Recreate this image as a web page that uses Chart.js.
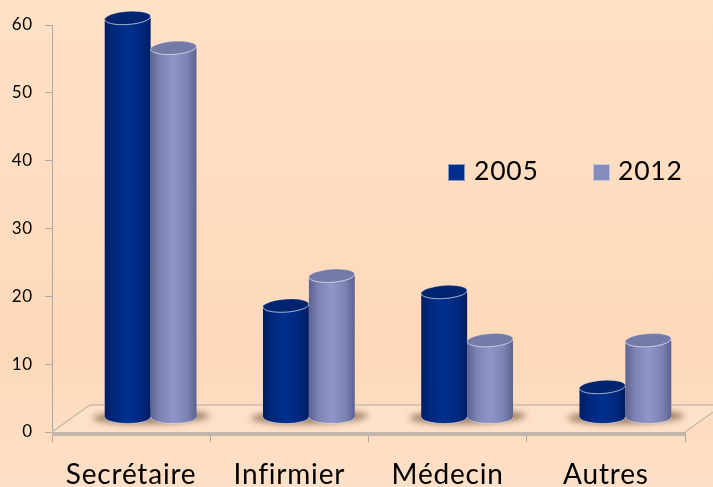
<!DOCTYPE html>
<html><head><meta charset="utf-8">
<style>html,body{margin:0;padding:0;width:713px;height:487px;overflow:hidden;background:linear-gradient(180deg,#ffe1c7 0%,#fedcbf 45%,#fdd9b9 72%,#fee0c8 100%)}canvas{display:block}</style>
<script src="https://cdn.jsdelivr.net/npm/chart.js@4"></script>
</head><body><canvas id="c" width="713" height="487"></canvas>
<script>
const categories = ["Secrétaire","Infirmier","Médecin","Autres"];
const series2005 = [60,17.6,19.6,5.6];
const series2012 = [55.6,22,12.5,12.5];
const seriesNames = ["2005","2012"];
const yTicks = [0,10,20,30,40,50,60];
const FONT = "Lato, Carlito, sans-serif";
const DX = 19.5, TOP_DY = 7, BASE_DY = 15, RY = 6.5;
const PAL = [
 {edge:"#001c66",near:"#00287c",mid:"#00308f",cap:"#00246f",swatch:"#002e8c"},
 {edge:"#5b6290",near:"#7c82b2",mid:"#9097c8",cap:"#757ba8",swatch:"#858bbb"}];
function drawCylinders(chart,index){
  const {ctx,chartArea:a}=chart, p=PAL[index], base=a.bottom-BASE_DY;
  ctx.save();
  chart.getDatasetMeta(index).data.forEach(e=>{
    const cx=e.x+DX, w=e.width, x0=cx-w/2, x1=cx+w/2, top=e.y-TOP_DY;
    const g=ctx.createLinearGradient(x0,0,x1,0);
    g.addColorStop(0,p.edge);g.addColorStop(.2,p.near);g.addColorStop(.5,p.mid);g.addColorStop(.8,p.near);g.addColorStop(1,p.edge);
    ctx.fillStyle=g;
    ctx.beginPath();
    ctx.moveTo(x0,top);ctx.lineTo(x0,base);
    ctx.ellipse(cx,base,w/2,RY,0,Math.PI,0,true);
    ctx.lineTo(x1,top);ctx.closePath();ctx.fill();
    ctx.strokeStyle="rgba(235,235,240,.55)";ctx.lineWidth=1;
    ctx.beginPath();ctx.ellipse(cx,base,w/2,RY,0,0,Math.PI);ctx.stroke();
    ctx.fillStyle=p.cap;
    ctx.beginPath();ctx.ellipse(cx,top,w/2,RY,-0.07,0,Math.PI*2);ctx.fill();
    ctx.strokeStyle="rgba(235,235,240,.7)";
    ctx.beginPath();ctx.ellipse(cx,top,w/2,RY,-0.07,0,Math.PI);ctx.stroke();
    ctx.strokeStyle="rgba(235,235,240,.3)";
    ctx.beginPath();ctx.ellipse(cx,top,w/2,RY,-0.07,Math.PI,Math.PI*2);ctx.stroke();
  });
  ctx.restore();
}
const cylinders = {
 id:"cylinders",
 beforeDraw(chart){ chart.ctx.letterSpacing="0.8px"; },
 beforeDatasetsDraw(chart){
  const {ctx,chartArea:a,width} = chart, b=a.bottom, l=a.left, r=a.right;
  ctx.save();
  ctx.fillStyle="#fee1c9";
  ctx.beginPath();ctx.moveTo(l,b);ctx.lineTo(90,b-27);ctx.lineTo(width,b-27);ctx.lineTo(width,b-20);ctx.lineTo(r,b);ctx.closePath();ctx.fill();
  ctx.strokeStyle="#c7bcb0";ctx.lineWidth=1.5;
  ctx.beginPath();ctx.moveTo(l,b);ctx.lineTo(90,b-27);ctx.lineTo(width,b-27);ctx.stroke();
  ctx.beginPath();ctx.moveTo(r,b);ctx.lineTo(width,b-20);ctx.stroke();
  ctx.fillStyle="#c4b8ac";ctx.fillRect(l,b,r-l,4);
  ctx.filter="blur(3px)";ctx.fillStyle="rgba(135,105,75,.8)";
  chart.getDatasetMeta(0).data.forEach((e,i)=>{
    const e2=chart.getDatasetMeta(1).data[i];
    const x0=e.x+DX-e.width/2-12, x1=e2.x+DX+e2.width/2+13;
    ctx.beginPath();ctx.ellipse((x0+x1)/2,b-BASE_DY,(x1-x0)/2,7,-0.02,0,Math.PI*2);ctx.fill();
  });
  ctx.restore();
 },
 beforeDatasetDraw(){ return false; },
 afterDatasetsDraw(chart){ drawCylinders(chart,0); drawCylinders(chart,1); },
 afterDraw(chart){
  const {ctx}=chart, items=[[448,474],[593,618]];
  ctx.save();
  ctx.font="26.5px "+FONT;ctx.textBaseline="middle";
  seriesNames.forEach((n,i)=>{
    ctx.fillStyle=PAL[i].swatch;ctx.fillRect(items[i][0],164,17,17);
    ctx.strokeStyle="rgba(255,255,255,.5)";ctx.strokeRect(items[i][0]+.5,164.5,16,16);
    ctx.fillStyle="#000";ctx.fillText(n,items[i][1],171);
  });
  ctx.restore();
 }
};
new Chart(document.getElementById("c"),{
 type:"bar",
 data:{labels:categories,datasets:[
  {label:seriesNames[0],data:series2005,backgroundColor:PAL[0].swatch,categoryPercentage:.58,barPercentage:1},
  {label:seriesNames[1],data:series2012,backgroundColor:PAL[1].swatch,categoryPercentage:.58,barPercentage:1}]},
 options:{
  responsive:false,animation:false,
  layout:{padding:{top:25,right:28,left:0,bottom:0}},
  plugins:{legend:{display:false},tooltip:{enabled:false}},
  scales:{
   x:{grid:{drawOnChartArea:false,drawTicks:true,tickLength:10,color:"#a9a9a9",offset:true},
      border:{color:"#a9a9a9"},
      ticks:{color:"#000",font:{family:FONT,size:28},padding:16,maxRotation:0},
      afterFit(s){s.height=55;}},
   y:{min:0,max:60,grid:{drawOnChartArea:false,drawTicks:true,tickLength:7,color:"#a9a9a9"},
      border:{color:"#a9a9a9"},
      afterBuildTicks(s){s.ticks=yTicks.map(v=>({value:v}));},
      ticks:{color:"#000",font:{family:FONT,size:17},padding:12},
      afterFit(s){s.width=52;}}
  }
 },
 plugins:[cylinders]
});
</script></body></html>
